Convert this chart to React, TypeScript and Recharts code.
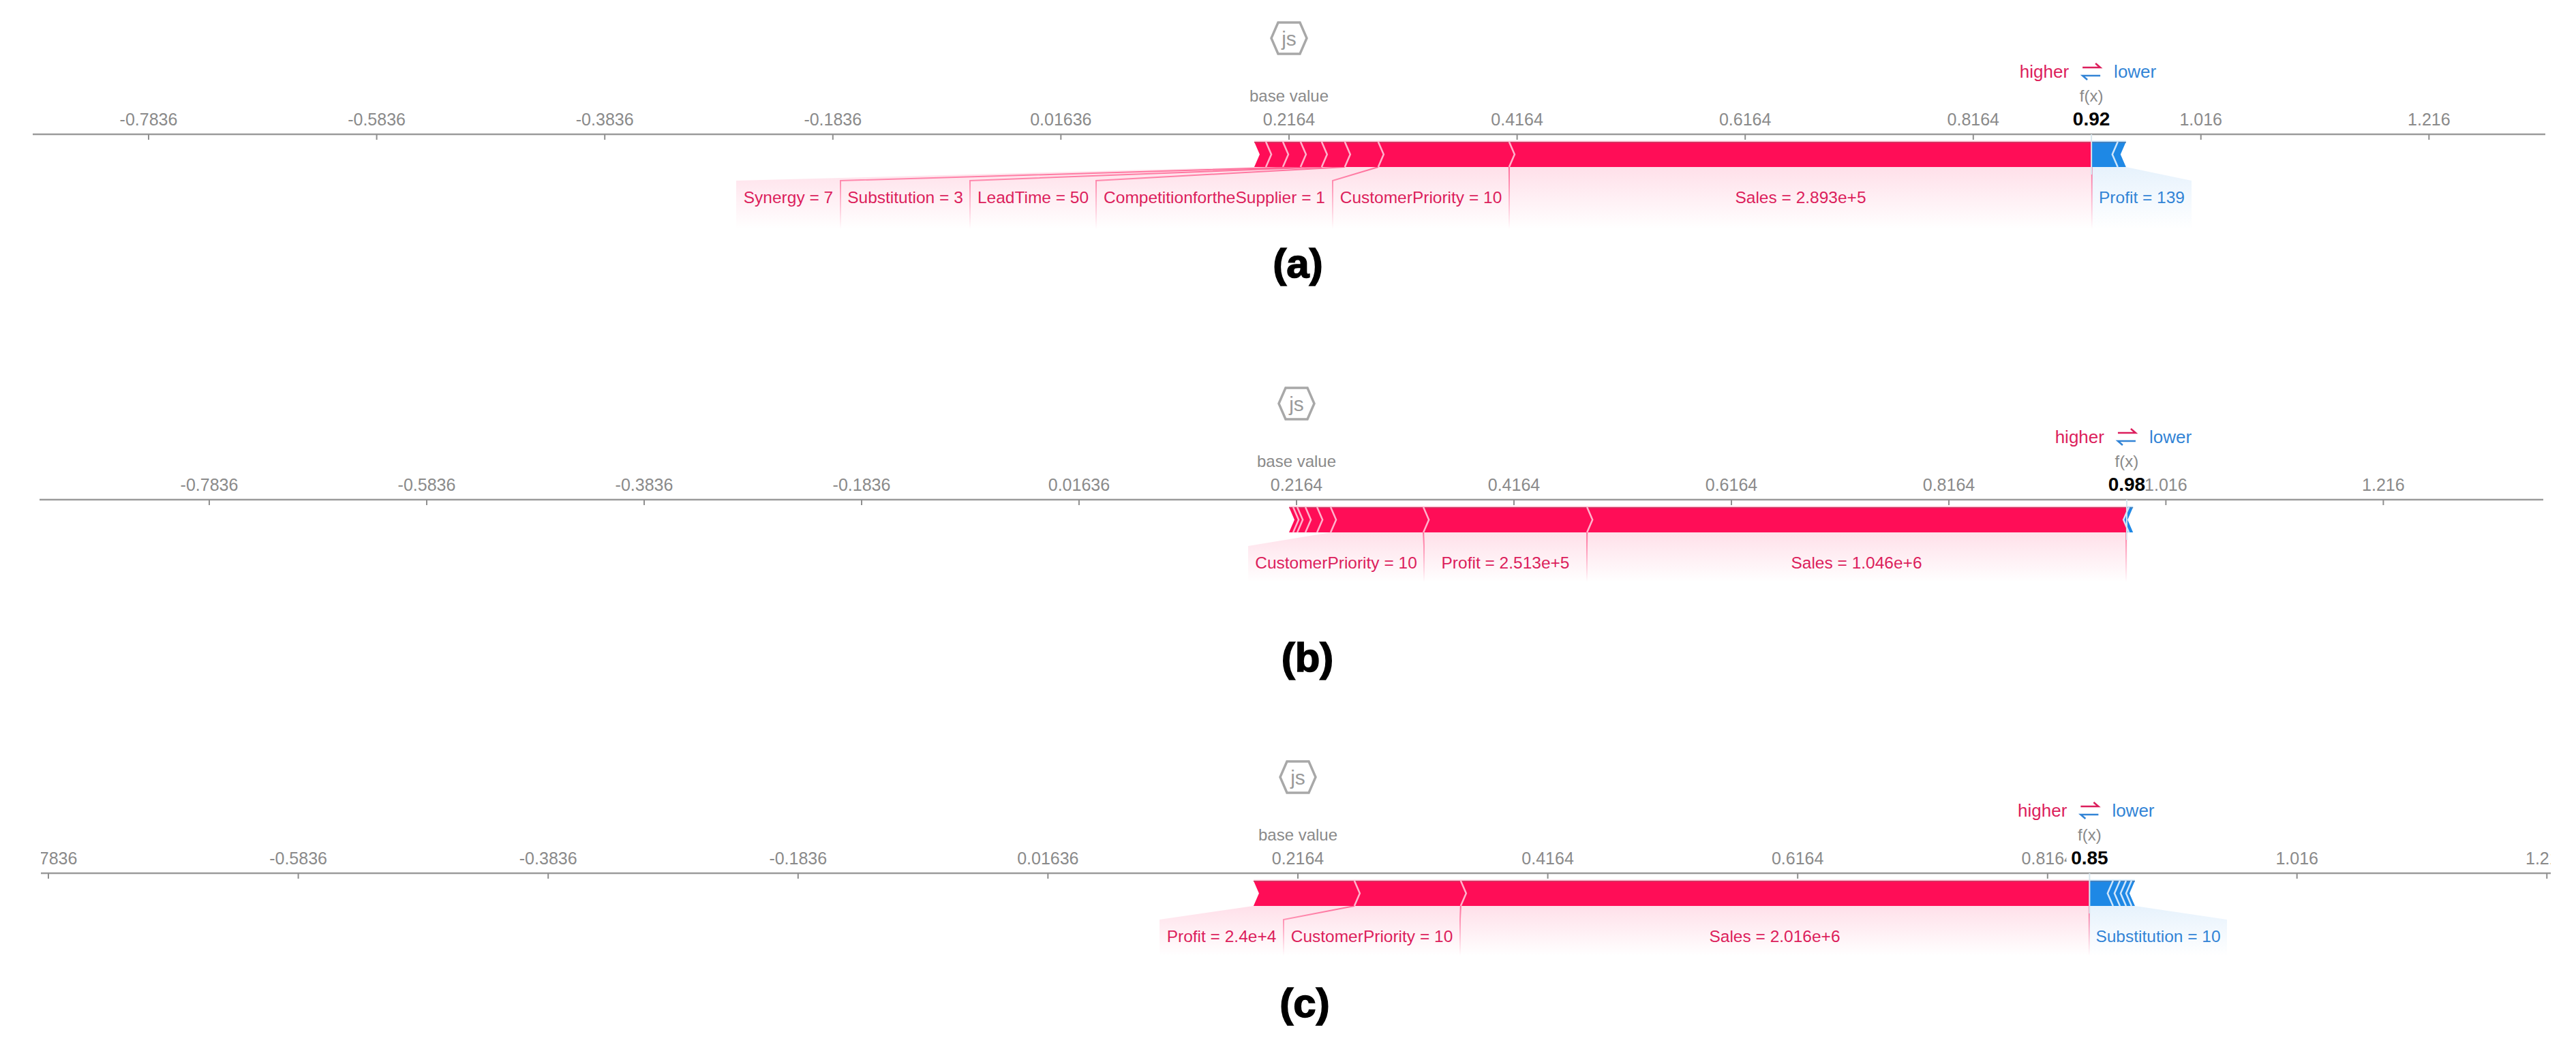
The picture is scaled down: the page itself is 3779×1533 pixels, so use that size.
import { Bar, BarChart, ReferenceLine, XAxis, YAxis } from 'recharts';

const PAGE_WIDTH = 3779;
const FONT = '"Liberation Sans", Arial, sans-serif';
const RED = '#ff0d57';
const BLUE = '#1e88e5';
const RED_TEXT = '#dc1e5c';
const BLUE_TEXT = '#3284d6';
const GRAY_TEXT = '#8a8a8a';
const TIP = 8;

const baseValue = 0.2164;
const tickValues = [-0.7836, -0.5836, -0.3836, -0.1836, 0.01636, 0.2164, 0.4164, 0.6164, 0.8164, 1.016, 1.216];

// panel (a)
const startA = 0.1859;
const outputA = 0.92;
const featuresA = ['', '', 'Synergy = 7', 'Substitution = 3', 'LeadTime = 50', 'CompetitionfortheSupplier = 1', 'CustomerPriority = 10', 'Sales = 2.893e+5', 'Profit = 139', ''];
const widthsA = [0.0102, 0.0149, 0.0155, 0.0185, 0.0203, 0.0293, 0.1148, 0.511, 0.0227, 0.0072];
const signsA = ['+', '+', '+', '+', '+', '+', '+', '+', '-', '-'];

// panel (b)
const startB = 0.2095;
const outputB = 0.98;
const featuresB = ['', '', '', '', '', 'CustomerPriority = 10', 'Profit = 2.513e+5', 'Sales = 1.046e+6', '', ''];
const widthsB = [0.0038, 0.0038, 0.0075, 0.0107, 0.0125, 0.0853, 0.1505, 0.4959, 0.0025, 0.0038];
const signsB = ['+', '+', '+', '+', '+', '+', '+', '+', '-', '-'];

// panel (c)
const startC = 0.1809;
const outputC = 0.85;
const featuresC = ['Profit = 2.4e+4', 'CustomerPriority = 10', 'Sales = 2.016e+6', 'Substitution = 10', '', '', '', ''];
const widthsC = [0.0807, 0.0851, 0.503, 0.0191, 0.0055, 0.0049, 0.0044, 0.0027];
const signsC = ['+', '+', '+', '-', '-', '-', '-', '-'];

// layout of each panel, in page pixels
const panels = [
  {
    id: 'a', caption: '(a)', captionX: 1904, captionY: 387, top: 0, height: 440, axisY: 197, axisLeft: 48, axisRight: 3734,
    basePx: 1891, unitPx: 1673, fadeDepth: 128, labelEdges: [1080, 1233, 1423, 1608, 1955, 2214, 3069, 3215], fanToBarStart: true, clip: [0, 3779], halo: 4,
    start: startA, output: outputA, features: featuresA, widths: widthsA, signs: signsA,
  },
  {
    id: 'b', caption: '(b)', captionX: 1918, captionY: 965, top: 500, height: 500, axisY: 733, axisLeft: 58, axisRight: 3731,
    basePx: 1902, unitPx: 1595, fadeDepth: 110, labelEdges: [1831, 2089, 2328, 3119], fanToBarStart: false, clip: [0, 3779], halo: 2,
    start: startB, output: outputB, features: featuresB, widths: widthsB, signs: signsB,
  },
  {
    id: 'c', caption: '(c)', captionX: 1914, captionY: 1472, top: 1040, height: 490, axisY: 1281, axisLeft: 60, axisRight: 3743,
    basePx: 1904, unitPx: 1833, fadeDepth: 110, labelEdges: [1701, 1883, 2142, 3065, 3267], fanToBarStart: true, clip: [60, 3742], halo: 16,
    start: startC, output: outputC, features: featuresC, widths: widthsC, signs: signsC,
  },
];

function buildRow(start: number, widths: number[]) {
  const row: Record<string, number | string> = { row: 'force', spacer: start };
  widths.forEach((w, i) => {
    row[`seg${i}`] = w;
  });
  return [row];
}

function AxisTick({ x, y, payload }: any) {
  return (
    <g>
      <line stroke="#8f8f8f" strokeWidth={2} x1={x} x2={x} y1={y} y2={y + 8} />
      <text dominantBaseline="central" fill={GRAY_TEXT} fontFamily={FONT} fontSize={25} textAnchor="middle" x={x} y={y - 22}>
        {payload.value}
      </text>
    </g>
  );
}

function makeSegmentShape(panel: any, index: number) {
  const firstBlue = panel.signs.indexOf('-');
  const feature = panel.features[index];
  const sign = panel.signs[index];
  const labelled = panel.features.filter((f: string) => f);
  const sumBefore = panel.widths.slice(0, index).reduce((a: number, b: number) => a + b, 0);
  const sumAfter = panel.widths.slice(index + 1).reduce((a: number, b: number) => a + b, 0);

  return function Segment({ x, y, width, height }: any) {
    const isRed = sign === '+';
    const isFirst = index === 0 || index === firstBlue;
    const x0 = x;
    const x1 = x + width;
    const top = y;
    const bot = y + height;
    const mid = y + height / 2;
    const fill = isRed ? RED : BLUE;
    const perUnit = width / panel.widths[index];

    let body = '';
    if (isRed) {
      const lastRed = index === firstBlue - 1;
      body = `M${x0},${top} L${x0 + TIP},${mid} L${x0},${bot} L${x1},${bot} ${lastRed ? '' : `L${x1 + TIP},${mid}`} L${x1},${top} Z`;
    } else {
      const left = isFirst ? '' : `L${x0 - TIP},${mid}`;
      body = `M${x0},${top} ${left} L${x0},${bot} L${x1},${bot} L${x1 - TIP},${mid} L${x1},${top} Z`;
    }
    const chevronX = isRed ? x0 + TIP : x0 - TIP;

    let labelPart = null;
    if (feature) {
      const n = labelled.indexOf(feature);
      const edgeL = panel.labelEdges[n];
      const edgeR = panel.labelEdges[n + 1];
      const labelTop = bot + 20;
      const fadeBottom = bot + panel.fadeDepth - 37;
      const isOuterRed = isRed && n === 0;
      const isLastRed = index === firstBlue - 1;
      const fanL = isOuterRed && panel.fanToBarStart ? x0 - sumBefore * perUnit : x0;
      const fanR = isRed ? x1 : x1 + sumAfter * perUnit;
      const gradient = `url(#fade-${isRed ? 'red' : 'blue'}-${panel.id})`;
      const strokeGradient = `url(#line-${panel.id})`;
      labelPart = (
        <g>
          <path
            d={`M${edgeL},${fadeBottom} L${edgeL},${labelTop} L${fanL},${bot} L${fanR},${bot} L${edgeR},${labelTop} L${edgeR},${fadeBottom} Z`}
            fill={gradient}
          />
          {isRed && !isOuterRed && (
            <path d={`M${x0},${bot} L${edgeL},${labelTop} L${edgeL},${fadeBottom}`} fill="none" stroke={strokeGradient} strokeWidth={2} />
          )}
          {isLastRed && <path d={`M${x1},${bot} L${x1},${fadeBottom}`} fill="none" stroke={strokeGradient} strokeWidth={2} />}
          <text
            dominantBaseline="central"
            fill={isRed ? RED_TEXT : BLUE_TEXT}
            fontFamily={FONT}
            fontSize={24.5}
            textAnchor="middle"
            x={(edgeL + edgeR) / 2}
            y={bot + 44}
          >
            {feature}
          </text>
        </g>
      );
    }

    return (
      <g>
        {labelPart}
        <path d={body} fill={fill} />
        <rect fill={isRed ? '#ffc6d8' : '#bfe0fa'} height={1.5} width={width} x={x0} y={top - 1.5} />
        <rect fill={isRed ? '#cc3a63' : '#4a7fb5'} height={1.5} width={width} x={x0} y={top} />
        {!isFirst && (
          <path d={`M${x0},${top} L${chevronX},${mid} L${x0},${bot}`} fill="none" stroke={isRed ? '#ffb3cc' : '#cfe6fb'} strokeWidth={2.5} />
        )}
      </g>
    );
  };
}

function BaseMarker({ viewBox }: any) {
  const cx = viewBox.x;
  const axisY = viewBox.y;
  const cy = axisY - 141;
  return (
    <g fontFamily={FONT}>
      <path
        d={`M${cx - 16},${cy - 23} L${cx + 16},${cy - 23} L${cx + 26},${cy} L${cx + 16},${cy + 23} L${cx - 16},${cy + 23} L${cx - 26},${cy} Z`}
        fill="none"
        stroke="#a8a8a8"
        strokeWidth={3.5}
      />
      <text dominantBaseline="central" fill="#9a9a9a" fontSize={30} textAnchor="middle" x={cx} y={cy}>
        js
      </text>
      <text dominantBaseline="central" fill={GRAY_TEXT} fontSize={24} textAnchor="middle" x={cx} y={axisY - 57}>
        base value
      </text>
    </g>
  );
}

function OutputMarker({ viewBox, value, halo }: any) {
  const cx = viewBox.x;
  const axisY = viewBox.y;
  return (
    <g fontFamily={FONT}>
      <text dominantBaseline="central" fill={GRAY_TEXT} fontSize={24} textAnchor="middle" x={cx} y={axisY - 57}>
        f(x)
      </text>
      <text
        dominantBaseline="central"
        fill="#000"
        fontSize={28}
        fontWeight="bold"
        paintOrder="stroke"
        stroke="#fff"
        strokeWidth={halo}
        textAnchor="middle"
        x={cx}
        y={axisY - 23}
      >
        {value}
      </text>
      <text dominantBaseline="central" fill={RED_TEXT} fontSize={26} textAnchor="end" x={cx - 33} y={axisY - 92}>
        higher
      </text>
      <text dominantBaseline="central" fill={BLUE_TEXT} fontSize={26} textAnchor="start" x={cx + 33} y={axisY - 92}>
        lower
      </text>
      <path d={`M${cx - 13},${axisY - 98} H${cx + 13} L${cx + 6},${axisY - 104}`} fill="none" stroke={RED_TEXT} strokeWidth={2.5} />
      <path d={`M${cx + 13},${axisY - 86} H${cx - 13} L${cx - 6},${axisY - 80}`} fill="none" stroke={BLUE_TEXT} strokeWidth={2.5} />
    </g>
  );
}

function ForcePanel({ panel }: { panel: any }) {
  const data = buildRow(panel.start, panel.widths);
  const domain = [
    baseValue + (panel.axisLeft - panel.basePx) / panel.unitPx,
    baseValue + (panel.axisRight - panel.basePx) / panel.unitPx,
  ];
  const plotTop = panel.axisY - panel.top;
  const barBottom = plotTop + 48;

  return (
    <div
      style={{
        clipPath: `inset(0 ${PAGE_WIDTH - panel.clip[1]}px 0 ${panel.clip[0]}px)`,
        left: 0,
        position: 'absolute',
        top: panel.top,
      }}
    >
      <BarChart
        data={data}
        height={panel.height}
        layout="vertical"
        margin={{ bottom: panel.height - plotTop - 59, left: panel.axisLeft, right: PAGE_WIDTH - panel.axisRight, top: plotTop - 1 }}
        width={PAGE_WIDTH}
      >
        <defs>
          <linearGradient gradientUnits="userSpaceOnUse" id={`fade-red-${panel.id}`} x1={0} x2={0} y1={barBottom} y2={barBottom + panel.fadeDepth - 37}>
            <stop offset="0%" stopColor={RED} stopOpacity={0.13} />
            <stop offset="100%" stopColor={RED} stopOpacity={0} />
          </linearGradient>
          <linearGradient gradientUnits="userSpaceOnUse" id={`fade-blue-${panel.id}`} x1={0} x2={0} y1={barBottom} y2={barBottom + panel.fadeDepth - 37}>
            <stop offset="0%" stopColor={BLUE} stopOpacity={0.11} />
            <stop offset="100%" stopColor={BLUE} stopOpacity={0} />
          </linearGradient>
          <linearGradient gradientUnits="userSpaceOnUse" id={`line-${panel.id}`} x1={0} x2={0} y1={barBottom} y2={barBottom + panel.fadeDepth - 37}>
            <stop offset="0%" stopColor={RED} stopOpacity={0.55} />
            <stop offset="100%" stopColor={RED} stopOpacity={0} />
          </linearGradient>
        </defs>
        <XAxis
          axisLine={{ stroke: '#9a9a9a', strokeWidth: 2.5 }}
          domain={domain}
          height={1}
          interval={0}
          orientation="top"
          tick={<AxisTick />}
          tickLine={false}
          tickMargin={0}
          tickSize={0}
          ticks={tickValues}
          type="number"
          zIndex={100}
        />
        <YAxis dataKey="row" hide type="category" width={0} />
        <ReferenceLine label={(p: any) => <BaseMarker {...p} />} stroke="none" x={baseValue} />
        <ReferenceLine stroke="#d8e6ee" strokeWidth={2} x={panel.output} />
        <ReferenceLine
          label={{ content: (p: any) => <OutputMarker {...p} halo={panel.halo} value={panel.output} />, zIndex: 5000 }}
          stroke="none"
          x={panel.output}
          zIndex={5000}
        />
        <Bar barSize={37} dataKey="spacer" fill="none" isAnimationActive={false} stackId="force" />
        {panel.widths.map((_: number, i: number) => {
          const Segment = makeSegmentShape(panel, i);
          return <Bar barSize={37} dataKey={`seg${i}`} isAnimationActive={false} key={i} shape={<Segment />} stackId="force" />;
        })}
      </BarChart>
    </div>
  );
}

export default function App() {
  return (
    <div style={{ background: '#fff', height: 1533, left: 0, overflow: 'hidden', position: 'absolute', top: 0, width: PAGE_WIDTH }}>
      {panels.map((panel) => (
        <ForcePanel key={panel.id} panel={panel} />
      ))}
      {panels.map((panel) => (
        <div
          key={panel.caption}
          style={{
            WebkitTextStroke: '1.5px #000',
            color: '#000',
            fontFamily: FONT,
            fontSize: 60,
            fontWeight: 'bold',
            left: panel.captionX,
            lineHeight: 1,
            position: 'absolute',
            top: panel.captionY,
            transform: 'translate(-50%, -50%)',
          }}
        >
          {panel.caption}
        </div>
      ))}
    </div>
  );
}
